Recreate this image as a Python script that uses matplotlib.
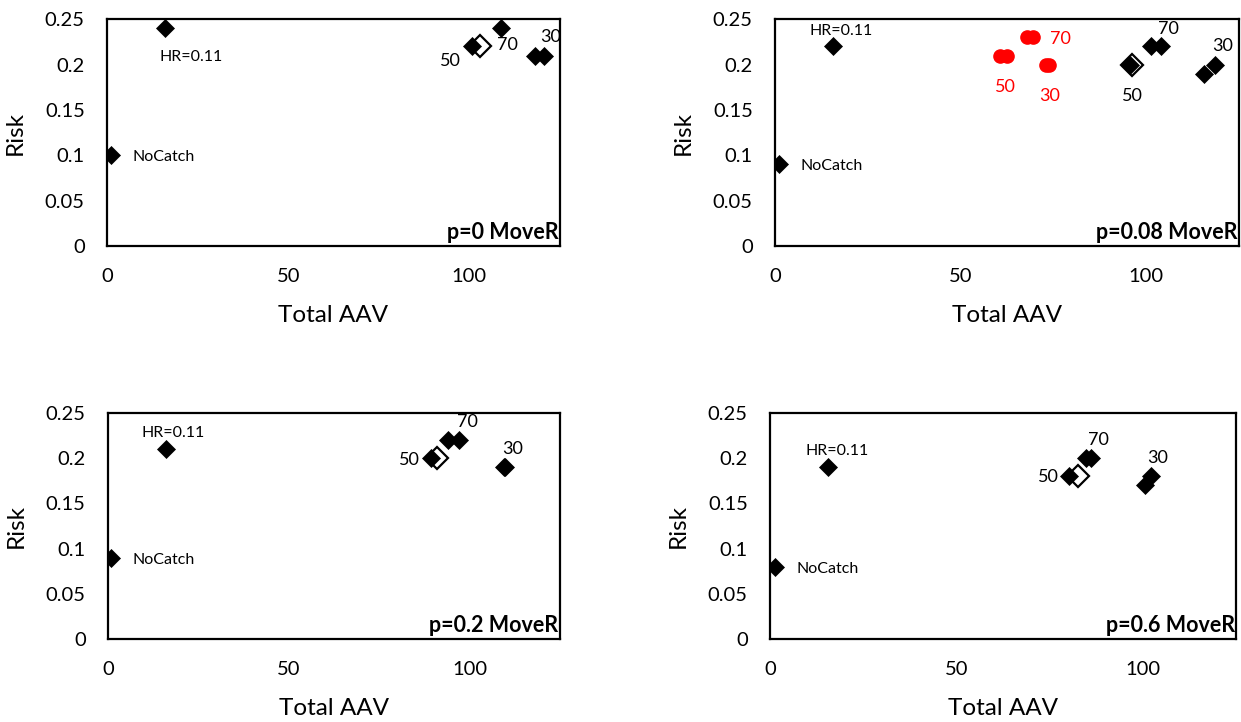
import matplotlib
matplotlib.use("Agg")
import matplotlib.pyplot as plt
from matplotlib.ticker import FuncFormatter

plt.rcParams['font.family'] = ['Lato', 'DejaVu Sans']

panel_titles = ["p=0 MoveR", "p=0.08 MoveR", "p=0.2 MoveR", "p=0.6 MoveR"]

# black filled diamonds: NoCatch, HR=0.11, then catch rule pairs (50, 70, 30)
p0_x = [1.0, 16.1, 100.6, 108.7, 118.0, 120.7]
p0_y = [0.10, 0.24, 0.22, 0.24, 0.21, 0.21]
p008_x = [1.0, 15.6, 95.6, 101.4, 104.1, 115.7, 118.4]
p008_y = [0.09, 0.22, 0.20, 0.22, 0.22, 0.19, 0.20]
p02_x = [0.9, 16.0, 89.4, 94.0, 97.0, 109.5, 109.9]
p02_y = [0.09, 0.21, 0.20, 0.22, 0.22, 0.19, 0.19]
p06_x = [1.2, 15.6, 80.2, 84.7, 86.0, 100.5, 102.1]
p06_y = [0.08, 0.19, 0.18, 0.20, 0.20, 0.17, 0.18]

# open diamonds (reference run)
open_x = [102.9, 96.1, 91.0, 82.7]
open_y = [0.22, 0.20, 0.20, 0.18]

# red circles, only in the p=0.08 panel
red_x = [60.7, 62.4, 67.8, 69.5, 72.9, 73.9]
red_y = [0.21, 0.21, 0.23, 0.23, 0.20, 0.20]

filled_x = [p0_x, p008_x, p02_x, p06_x]
filled_y = [p0_y, p008_y, p02_y, p06_y]

# text labels: (text, x, y)
labels = [
    [("HR=0.11", 23.2, 0.2085), ("NoCatch", 15.5, 0.098), ("50", 94.7, 0.204),
     ("70", 110.4, 0.222), ("30", 122.4, 0.230)],
    [("HR=0.11", 17.8, 0.2375), ("NoCatch", 15.3, 0.088), ("50", 96.2, 0.165),
     ("70", 105.9, 0.239), ("30", 120.5, 0.220)],
    [("HR=0.11", 18.0, 0.228), ("NoCatch", 15.5, 0.0875), ("50", 83.4, 0.198),
     ("70", 99.3, 0.240), ("30", 112.0, 0.2097)],
    [("HR=0.11", 18.0, 0.208), ("NoCatch", 15.4, 0.0775), ("50", 74.6, 0.179),
     ("70", 88.0, 0.220), ("30", 104.1, 0.200)],
]
red_labels = [("50", 62.2, 0.175), ("70", 77.0, 0.228), ("30", 73.9, 0.165)]

fig = plt.figure(figsize=(12.41, 7.22), dpi=100)
rects = [
    [0.0862, 0.6593, 0.3650, 0.3140],
    [0.6245, 0.6593, 0.3739, 0.3140],
    [0.0870, 0.1150, 0.3642, 0.3130],
    [0.6205, 0.1150, 0.3755, 0.3130],
]

for i, rect in enumerate(rects):
    ax = fig.add_axes(rect)

    if i == 1:
        ax.plot(red_x, red_y, 'o', color='#ff0000', ms=9.5, mec='#ff0000', zorder=3)
        for t, x, y in red_labels:
            ax.text(x, y, t, color='#ff0000', fontsize=13, ha='center', va='center')

    ax.plot(filled_x[i], filled_y[i], 'D', color='black', ms=8.8, mec='black', mew=0.5, zorder=4)
    ax.plot(open_x[i], open_y[i], 'D', mfc='none', mec='black', ms=11.5, mew=1.6, zorder=5)

    for t, x, y in labels[i]:
        fs = 11.5 if t in ("NoCatch", "HR=0.11") else 13
        ax.text(x, y, t, fontsize=fs, ha='center', va='center')

    ax.text(0.997, 0.015, panel_titles[i], transform=ax.transAxes, ha='right', va='bottom',
            fontsize=15.5, fontweight='bold')

    ax.set_xlim(0, 125)
    ax.set_ylim(0, 0.25)
    ax.set_xticks([0, 50, 100])
    ax.set_yticks([0, 0.05, 0.1, 0.15, 0.2, 0.25])
    ax.yaxis.set_major_formatter(FuncFormatter(lambda v, p: f"{v:g}"))
    ax.tick_params(length=0, labelsize=14.5, pad=16)
    for s in ax.spines.values():
        s.set_linewidth(1.6)
    ax.set_xlabel("Total AAV", fontsize=17.5, labelpad=14)
    ax.set_ylabel("Risk", fontsize=17.5, labelpad=14)

fig.savefig("out.png", dpi=100)
